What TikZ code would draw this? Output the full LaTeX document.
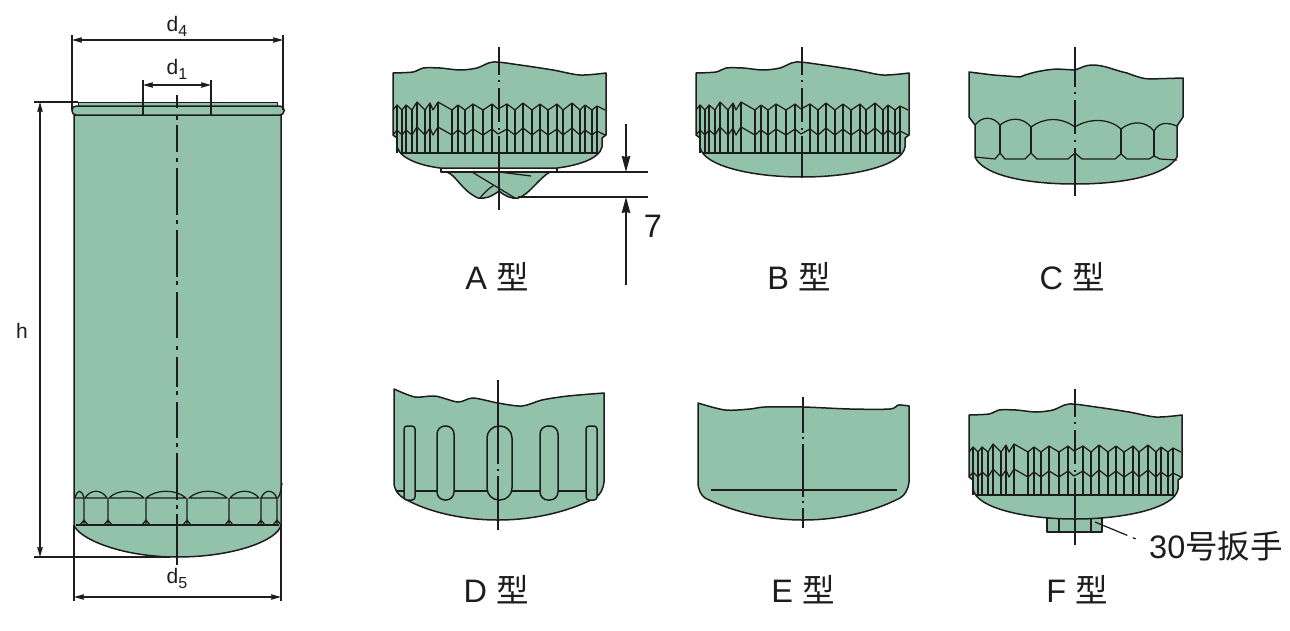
\documentclass[tikz,border=0pt]{standalone}
\usepackage{fontspec}
\setmainfont{Liberation Sans}
\newfontfamily\cjk{Noto Sans CJK SC}
\usetikzlibrary{arrows.meta}
\definecolor{bodygreen}{RGB}{146,195,170}
\definecolor{inkline}{RGB}{30,28,28}
\tikzset{
  x=1pt, y=-1pt,
  outline/.style={draw=inkline, line width=1.5pt, fill=bodygreen, line join=round},
  thinline/.style={draw=inkline, line width=1.25pt, line join=round},
  extline/.style={draw=inkline, line width=1.1pt},
  dimline/.style={draw=inkline, line width=1.1pt, {Stealth[length=10pt,width=5.5pt,inset=1pt]}-{Stealth[length=10pt,width=5.5pt,inset=1pt]}},
  bigarrow/.style={draw=inkline, line width=1.3pt, -{Stealth[length=16pt,width=8.5pt,inset=1pt]}},
  axisline/.style={draw=inkline, line width=1.2pt, dash pattern=on #1 off 5pt on 2pt off 6pt on 34pt off 6pt on 2pt off 6pt on 300pt},
  axisonce/.style={draw=inkline, line width=1.2pt, dash pattern=on #1 off 5pt on 2pt off 5pt on 300pt},
  dimlabel/.style={font=\fontsize{21}{25}\selectfont, text=inkline, inner sep=0pt},
  typelabel/.style={font=\fontsize{32.5}{38}\selectfont, text=inkline, inner sep=0pt},
}
\newcommand{\dimsub}[1]{\raisebox{-5pt}{\fontsize{16}{16}\selectfont #1}}
\newcommand{\headtop}{plot[smooth] coordinates {(-106,73) (-86,72) (-76,68) (-59,68) (-39,70) (-22,68) (-6,62) (21,65) (54,70) (81,75) (107,73)}}
\newcommand{\knurlzig}{plot coordinates {(-106,5) (-102,0) (-97,5) (-93,0) (-87,5) (-82,-3) (-74,5) (-69,-2) (-66,5) (-61,-3) (-47,5) (-41,0) (-34,5) (-26,-1) (-16,5) (-7,-1) (-1,4) (8,-1) (16,5) (24,-2) (33,5) (41,-1) (49,5) (58,-1) (64,5) (73,-2) (81,5) (86,0) (93,5) (98,1) (106,5)}}
\newcommand{\knurlband}{
  \foreach \dx/\dy in {-102/0,-97/5,-93/0,-87/5,-82/-3,-74/5,-69/-2,-61/-3,-47/5,-41/0,-34/5,-26/-1,-16/5,-7/-1,8/-1,16/5,24/-2,33/5,41/-1,49/5,58/-1,64/5,73/-2,81/5,86/0,93/5,98/1}
    \draw[thinline, yshift=-105pt] (\dx,\dy) -- (\dx,48);
  \draw[thinline, yshift=-105pt] \knurlzig;
  \draw[thinline, yshift=-130pt] \knurlzig;
  \draw[outline, yshift=-105pt] (-99,48) -- (99,48);
}
\newcommand{\roundbottom}{(103,147) .. controls (100,166) and (50,177) .. (0,177) .. controls (-50,177) and (-99,166) .. (-102,147)}

\begin{document}
\begin{tikzpicture}
  \useasboundingbox (0,0) rectangle (1290,630);

  \draw[outline] (74,115) -- (74,525) .. controls (78,538) and (120,557) .. (177,557) .. controls (235,557) and (278,540) .. (281,525) -- (281,115) -- cycle;
  \draw[thinline] (282,483) .. controls (281,490) and (280,495) .. (278,498);
  \foreach \xa/\xb in {75/84,85/107,109/144,146/186,189/227,230/259,261/277}
    \draw[thinline] (\xa,498) .. controls (\xa+0.25*\xb-0.25*\xa,489) and (\xa+0.75*\xb-0.75*\xa,489) .. (\xb,498) -- cycle;
  \foreach \xv in {84,108,146,187,229,261,277}
    \draw[thinline] (\xv,498) -- (\xv,525) (\xv-4,525) -- (\xv,520) -- (\xv+4,525);
  \draw[thinline] (76,525) -- (279,525);
  \draw[outline, line width=0.9pt] (78,102) rectangle (277,106);
  \draw[outline, rounded corners=4pt] (72,106) rectangle (284,115);

  \coordinate (bodyaxistop) at (177,95);
  \coordinate (bodyaxisend) at (177,565);
  \draw[draw=inkline, line width=1.2pt, dash pattern=on 13pt off 7pt on 5pt off 5pt on 27pt off 6pt on 4pt off 6pt on 47pt off 5pt on 4pt off 6pt on 47pt off 4pt on 4pt off 7pt on 46pt off 8pt on 4pt off 7pt on 30pt off 4pt on 4pt off 7pt on 36pt off 5pt on 4pt off 6pt on 47pt off 5pt on 4pt off 5pt on 60pt] (bodyaxistop) -- (bodyaxisend);

  \node (dfour) at (177,26) [dimlabel] {d\dimsub{4}};
  \coordinate (dfourleft) at (72,40);
  \coordinate (dfourright) at (283,40);
  \draw[dimline] (dfourleft) -- (dfourright);
  \draw[extline] (72,35) -- (72,110) (283,35) -- (283,110);
  \node (done) at (177,69) [dimlabel] {d\dimsub{1}};
  \coordinate (doneleft) at (143,85);
  \coordinate (doneright) at (211,85);
  \draw[dimline] (doneleft) -- (doneright);
  \draw[extline] (143,80) -- (143,115) (211,80) -- (211,115);
  \node (dfive) at (177,578) [dimlabel] {d\dimsub{5}};
  \coordinate (dfiveleft) at (74,597);
  \coordinate (dfiveright) at (281,597);
  \draw[dimline] (dfiveleft) -- (dfiveright);
  \draw[extline] (74,525) -- (74,601) (281,525) -- (281,601);
  \node (hlabel) at (22,331) [dimlabel] {h};
  \coordinate (htop) at (40,102);
  \coordinate (hbottom) at (40,557);
  \draw[dimline] (htop) -- (hbottom);
  \draw[extline] (34,102) -- (78,102) (34,557) -- (170,557);

  \begin{scope}[xshift=499pt]
    \draw[outline] (-52,172) .. controls (-42,176) and (-38,190) .. (-21,198) .. controls (-14,199) and (-8,197) .. (0,191) .. controls (6,196) and (12,199) .. (19,198) .. controls (30,195) and (40,178) .. (51,172) -- cycle;
    \draw[thinline] (-27,172) -- (16,198) (-19,198) .. controls (-14,192) and (-10,188) .. (-6,186) (0,172) -- (32,176);
    \draw[outline] \headtop -- (107,135) -- (103,138) -- (103,147) .. controls (100,160) and (75,166) .. (58,168) -- (-59,168) .. controls (-75,166) and (-98,160) .. (-102,147) -- (-102,138) -- (-106,135) -- cycle;
    \knurlband
    \draw[thinline] (-58,168) -- (-58,172) -- (58,172) -- (58,168);
    \draw[axisline=28pt] (0,47) -- (0,210);
  \end{scope}
  \coordinate (upperend) at (557,172);
  \coordinate (upperfree) at (648,172);
  \coordinate (lowerend) at (518,197);
  \coordinate (lowerfree) at (648,197);
  \draw[extline, line width=1.3pt] (upperend) -- (upperfree);
  \draw[extline, line width=1.3pt] (lowerend) -- (lowerfree);
  \coordinate (arrowdown) at (626,124);
  \coordinate (arrowdowntip) at (626,172);
  \coordinate (arrowup) at (626,285);
  \coordinate (arrowuptip) at (626,197);
  \draw[bigarrow] (arrowdown) -- (arrowdowntip);
  \draw[bigarrow] (arrowup) -- (arrowuptip);
  \node (seven) at (653,226) [typelabel] {7};

  \begin{scope}[xshift=802pt]
    \draw[outline] \headtop -- (107,135) -- (103,138) -- \roundbottom -- (-102,138) -- (-106,135) -- cycle;
    \knurlband
    \draw[axisline=28pt] (0,47) -- (0,178);
  \end{scope}

  \begin{scope}[xshift=1075pt]
    \draw[outline] (-106,72) -- (-82,75) -- (-55,77) .. controls (-48,74) and (-35,70) .. (-18,69) -- (0,70) .. controls (6,68) and (10,65) .. (17,65) .. controls (30,65) and (38,70) .. (52,73) .. controls (60,76) and (68,79) .. (75,79) -- (108,78) -- (108,117) -- (102,126) -- (102,157) .. controls (92,175) and (50,184) .. (0,184) .. controls (-50,184) and (-92,175) .. (-100,157) -- (-100,125) -- (-106,117) -- cycle;
    \draw[thinline] (-100,125) .. controls (-93,116) and (-82,116) .. (-75,125) .. controls (-65,117) and (-52,117) .. (-44,127) .. controls (-30,117) and (-14,117) .. (0,127) .. controls (14,118) and (34,118) .. (46,129) .. controls (56,121) and (70,120) .. (79,131) .. controls (84,122) and (92,122) .. (102,126);
    \draw[thinline] (-75,125) -- (-75,153) (-44,127) -- (-44,153) (46,129) -- (46,154) (79,131) -- (79,156);
    \draw[thinline] (-100,157) -- (-80,159) -- (-75,153) -- (-70,159) -- (-50,159) -- (-44,153) -- (-38,159) -- (-7,159) -- (0,153) -- (7,159) -- (40,159) -- (46,154) -- (52,159) -- (74,159) -- (79,156) -- (85,159) -- (102,160);
    \draw[axisline=40pt] (0,47) -- (0,196);
  \end{scope}

  \begin{scope}[xshift=498pt]
    \draw[outline] plot[smooth] coordinates {(-104,389) (-83,397) (-63,396) (-40,402) (-25,398) (0,403) (24,406) (44,400) (70,396) (106,393)} -- (106,482) .. controls (105,490) and (102,495) .. (97,498) .. controls (70,512) and (35,520) .. (0,520) .. controls (-35,520) and (-70,512) .. (-93,499) .. controls (-100,495) and (-104,490) .. (-104,482) -- cycle;
    \draw[thinline] (-101,491) -- (100,491);
    \foreach \sa/\sb/\sr in {-94/-83/3,-61/-44/8,-11/14/12,42/60/8,88/99/3}
      \draw[outline, rounded corners=\sr pt] (\sa,426) rectangle (\sb,500);
    \draw[axisonce=84pt] (0,380) -- (0,530);
  \end{scope}

  \begin{scope}[xshift=803pt]
    \draw[outline] plot[smooth] coordinates {(-105,403) (-78,410) (-53,409) (-38,407) (0,407) (47,409) (87,409) (95,405) (106,406)} -- (106,482) .. controls (105,490) and (102,495) .. (97,498) .. controls (70,512) and (35,520) .. (0,520) .. controls (-35,520) and (-70,512) .. (-98,498) .. controls (-102,495) and (-105,490) .. (-105,482) -- cycle;
    \draw[thinline] (-92,490) -- (94,490);
    \draw[draw=inkline, line width=1.2pt, dash pattern=on 36pt off 4pt on 2pt off 5pt on 53pt off 4pt on 2pt off 5pt on 40pt] (0,397) -- (0,528);
  \end{scope}

  \begin{scope}[xshift=1075pt, yshift=-342pt]
    \draw[outline] (-28,174) rectangle (27,190);
    \draw[thinline] (-16,174) -- (-16,190) (16,174) -- (16,190);
    \draw[outline] \headtop -- (107,135) -- (103,138) -- \roundbottom -- (-102,138) -- (-106,135) -- cycle;
    \knurlband
    \draw[axisline=28pt] (0,47) -- (0,203);
  \end{scope}
  \coordinate (nutpoint) at (1095,522);
  \node (wrench) at (1216,546) [typelabel] {30{\cjk 号扳手}};
  \coordinate (wrenchend) at (1136,539);
  \draw[thinline, dash pattern=on 35pt off 6pt on 3pt off 30pt] (nutpoint) -- (wrenchend);

  \node (typeA) at (497,277) [typelabel] {A {\cjk 型}};
  \node (typeB) at (799,277) [typelabel] {B {\cjk 型}};
  \node (typeC) at (1072,277) [typelabel] {C {\cjk 型}};
  \node (typeD) at (496,590) [typelabel] {D {\cjk 型}};
  \node (typeE) at (803,590) [typelabel] {E {\cjk 型}};
  \node (typeF) at (1077,590) [typelabel] {F {\cjk 型}};
\end{tikzpicture}
\end{document}
